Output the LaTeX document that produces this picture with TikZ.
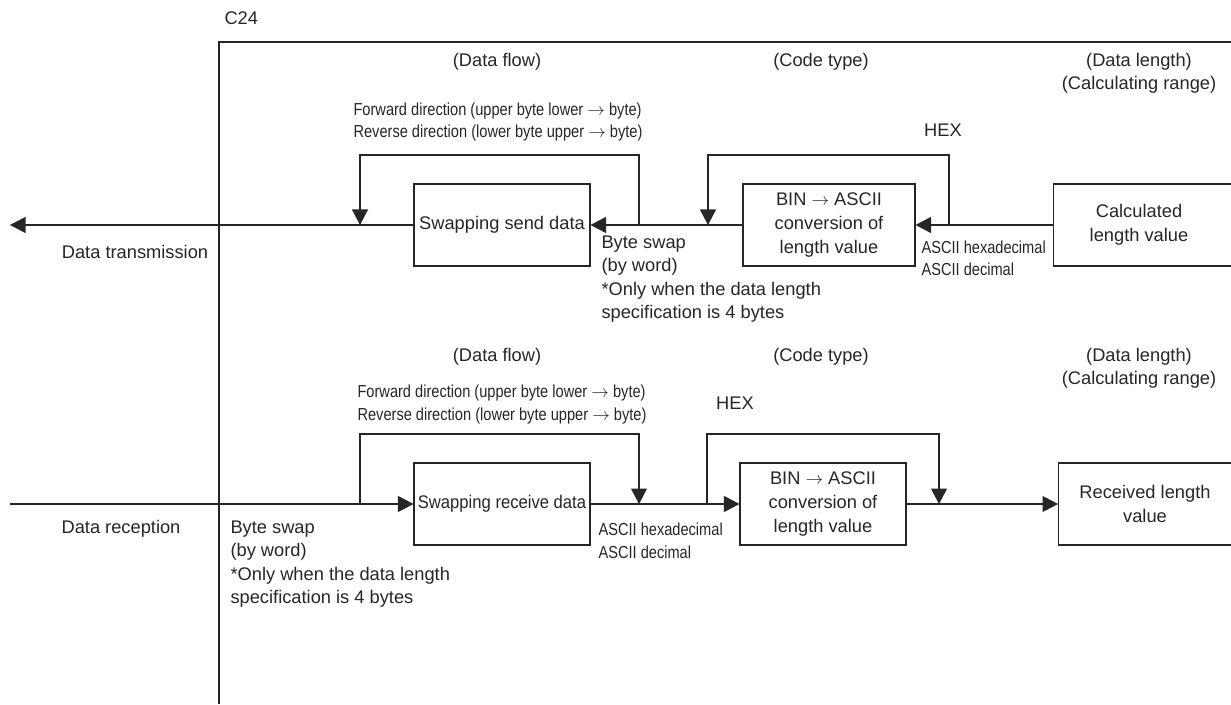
\documentclass[tikz,border=0pt]{standalone}
\usepackage{fontspec}
\setmainfont{Liberation Sans}
\newfontfamily\narrowfont{Liberation Sans}[FakeStretch=0.84]
\newfontfamily\tightfont{Liberation Sans}[FakeStretch=0.91]
\usetikzlibrary{arrows.meta,positioning}
\newcommand{\toarr}{$\rightarrow$}

\begin{document}
\begin{tikzpicture}[
  >={Triangle[length=3.1mm,width=3.2mm]},
  line width=0.6pt,
  color=black!85,
  txt/.style={font=\fontsize{10.4}{13.4}\selectfont, inner sep=0pt},
  small/.style={font=\narrowfont\fontsize{9.9}{12.8}\selectfont, inner sep=0pt, align=left},
  box/.style={txt, draw, rectangle, minimum height=1.64cm, align=center},
  flow/.style={->}
]
  \useasboundingbox (0,0) rectangle (24.62,14.08);

  % frame of the C24
  \draw (4.38,0) -- (4.38,13.24) -- (24.8,13.24);
  \node[txt, anchor=west] (c24) at (4.48,13.72) {C24};

  % column headings, same for both rows
  \foreach \y/\n in {12.84/tx,6.94/rx} {
    \node[txt] (flow\n) at (9.94,\y) {(Data flow)};
    \node[txt] (code\n) at (16.42,\y) {(Code type)};
    \node[txt, align=center] (len\n) at (22.78,\y-0.23) {(Data length)\\(Calculating range)};
  }

  % ---- data transmission ----
  \node[box, minimum width=3.52cm] (sendswap) at (10.04,9.58) {Swapping send data};
  \node[box, minimum width=3.44cm] (sendconv) at (16.58,9.58) {BIN \toarr{} ASCII\\conversion of\\length value};
  \node[box, minimum width=4cm, anchor=west] (calclen) at (21.06,9.58) {};
  \node[txt, align=center] (calctext) at (22.78,9.58) {Calculated\\length value};
  \coordinate (txend) at (0.2,9.58);
  \coordinate (txsw1) at (12.78,9.58);
  \coordinate (txsw2) at (7.20,9.58);
  \coordinate (txhx1) at (18.98,9.58);
  \coordinate (txhx2) at (14.16,9.58);

  \draw[flow] (sendswap.west) -- (txend);
  \draw[flow] (sendconv.west) -- (sendswap.east);
  \draw[flow] (calclen.west) -- (sendconv.east);
  \draw[flow] (txsw1) -- ++(0,1.4) -| (txsw2);
  \draw[flow] (txhx1) -- ++(0,1.4) -| (txhx2);

  \node[txt] (txlabel) at (2.70,9.04) {Data transmission};
  \node[small, anchor=west] (txdir) at (7.06,11.64)
    {Forward direction (upper byte lower \toarr{} byte)\\Reverse direction (lower byte upper \toarr{} byte)};
  \node[txt] (txhex) at (18.86,11.48) {HEX};
  \node[small, anchor=west] (txascii) at (18.42,8.91) {ASCII hexadecimal\\ASCII decimal};
  \node[txt, anchor=west, align=left] (txswap) at (12.02,8.50)
    {Byte swap\\(by word)\\*Only when the data length\\specification is 4 bytes};

  % ---- data reception ----
  \node[box, minimum width=3.52cm] (recvswap) at (10.04,4.0) {\tightfont Swapping receive data};
  \node[box, minimum width=3.32cm] (recvconv) at (16.46,4.0) {BIN \toarr{} ASCII\\conversion of\\length value};
  \node[box, minimum width=4cm, anchor=west] (recvlen) at (21.16,4.0) {};
  \node[txt, align=center] (recvtext) at (22.90,4.0) {Received length\\value};
  \coordinate (rxstart) at (0.2,4.0);
  \coordinate (rxsw1) at (7.20,4.0);
  \coordinate (rxsw2) at (12.78,4.0);
  \coordinate (rxhx1) at (14.14,4.0);
  \coordinate (rxhx2) at (18.78,4.0);

  \draw[flow] (rxstart) -- (recvswap.west);
  \draw[flow] (recvswap.east) -- (recvconv.west);
  \draw[flow] (recvconv.east) -- (recvlen.west);
  \draw[flow] (rxsw1) -- ++(0,1.4) -| (rxsw2);
  \draw[flow] (rxhx1) -- ++(0,1.4) -| (rxhx2);

  \node[txt] (rxlabel) at (2.42,3.50) {Data reception};
  \node[small, anchor=west] (rxdir) at (7.14,5.99)
    {Forward direction (upper byte lower \toarr{} byte)\\Reverse direction (lower byte upper \toarr{} byte)};
  \node[txt] (rxhex) at (14.70,6.02) {HEX};
  \node[small, anchor=west] (rxascii) at (11.96,3.26) {ASCII hexadecimal\\ASCII decimal};
  \node[txt, anchor=west, align=left] (rxswap) at (4.60,2.80)
    {Byte swap\\(by word)\\*Only when the data length\\specification is 4 bytes};
\end{tikzpicture}
\end{document}
